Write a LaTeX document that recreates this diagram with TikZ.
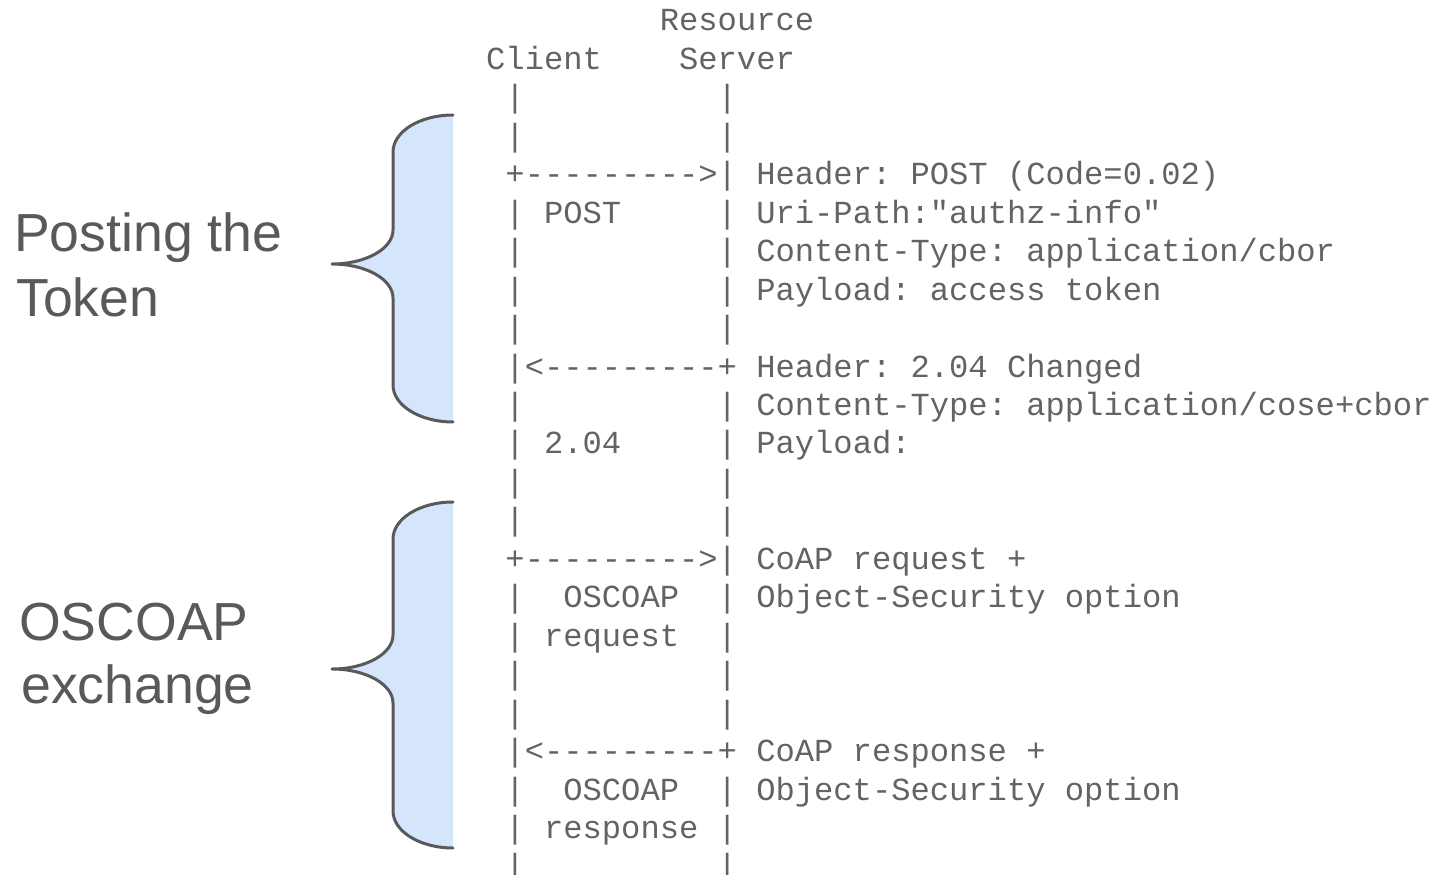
\documentclass[tikz,border=0pt]{standalone}
\usepackage{fontspec}
\setsansfont{Liberation Sans}
\setmonofont{Liberation Mono}
\definecolor{slate_grey}{HTML}{595959}
\definecolor{ascii_grey}{HTML}{636363}
\definecolor{brace_blue}{HTML}{D5E5FC}
\tikzset{
  ascii/.style={anchor=base west, inner sep=0pt, text=ascii_grey,
    font=\ttfamily\fontsize{32.15}{38.4}\selectfont},
  phase/.style={anchor=base west, inner sep=0pt, text=slate_grey,
    font=\sffamily\fontsize{53.6}{64}\selectfont},
  bracefill/.style={fill=brace_blue},
  braceline/.style={draw=slate_grey, line width=3pt},
}
% curly brace: top, tip and bottom heights
\newcommand{\bracepath}[3]{(453,#1)
  .. controls (419.9,#1) and (393,{#1+16.6}) .. (393,{#1+37})
  -- (393,{#2-34})
  .. controls (393,{#2-15.2}) and (365.7,#2) .. (332,#2)
  .. controls (365.7,#2) and (393,{#2+15.2}) .. (393,{#2+34})
  -- (393,{#3-37})
  .. controls (393,{#3-16.6}) and (419.9,#3) .. (453,#3)}

\begin{document}
\begin{tikzpicture}[x=1pt,y=-1pt,line join=round,line cap=round]
	\useasboundingbox (0,0) rectangle (1436,875);

	% braces
	\foreach \btop/\btip/\bbot in {115/264/422, 502/669/848}{
		\fill[bracefill] \bracepath{\btop}{\btip}{\bbot} -- cycle;
		\draw[braceline] \bracepath{\btop}{\btip}{\bbot};
	}

	% phase labels
	\node[phase] (posting1) at (14,251) {Posting the};
	\node[phase] (posting2) at (16,316) {Token};
	\node[phase] (oscoap1) at (19,640) {OSCOAP};
	\node[phase] (oscoap2) at (21,703) {exchange};

	% message flow
	\foreach \txt [count=\i from 0] in {
		{~~~~~~~~~Resource},
		{Client~~~~Server},
		{~|~~~~~~~~~~|},
		{~|~~~~~~~~~~|},
		{~+--------->|~Header:~POST~(Code=0.02)},
		{~|~POST~~~~~|~Uri-Path:"authz-info"},
		{~|~~~~~~~~~~|~Content-Type:~application/cbor},
		{~|~~~~~~~~~~|~Payload:~access~token},
		{~|~~~~~~~~~~|},
		{~|<---------+~Header:~2.04~Changed},
		{~|~~~~~~~~~~|~Content-Type:~application/cose+cbor},
		{~|~2.04~~~~~|~Payload:},
		{~|~~~~~~~~~~|},
		{~|~~~~~~~~~~|},
		{~+--------->|~CoAP~request~+},
		{~|~~OSCOAP~~|~Object-Security~option},
		{~|~request~~|},
		{~|~~~~~~~~~~|},
		{~|~~~~~~~~~~|},
		{~|<---------+~CoAP~response~+},
		{~|~~OSCOAP~~|~Object-Security~option},
		{~|~response~|},
		{~|~~~~~~~~~~|}}
		\node[ascii] (row\i) at (486,{31+38.45*\i}) {\txt};
\end{tikzpicture}
\end{document}
